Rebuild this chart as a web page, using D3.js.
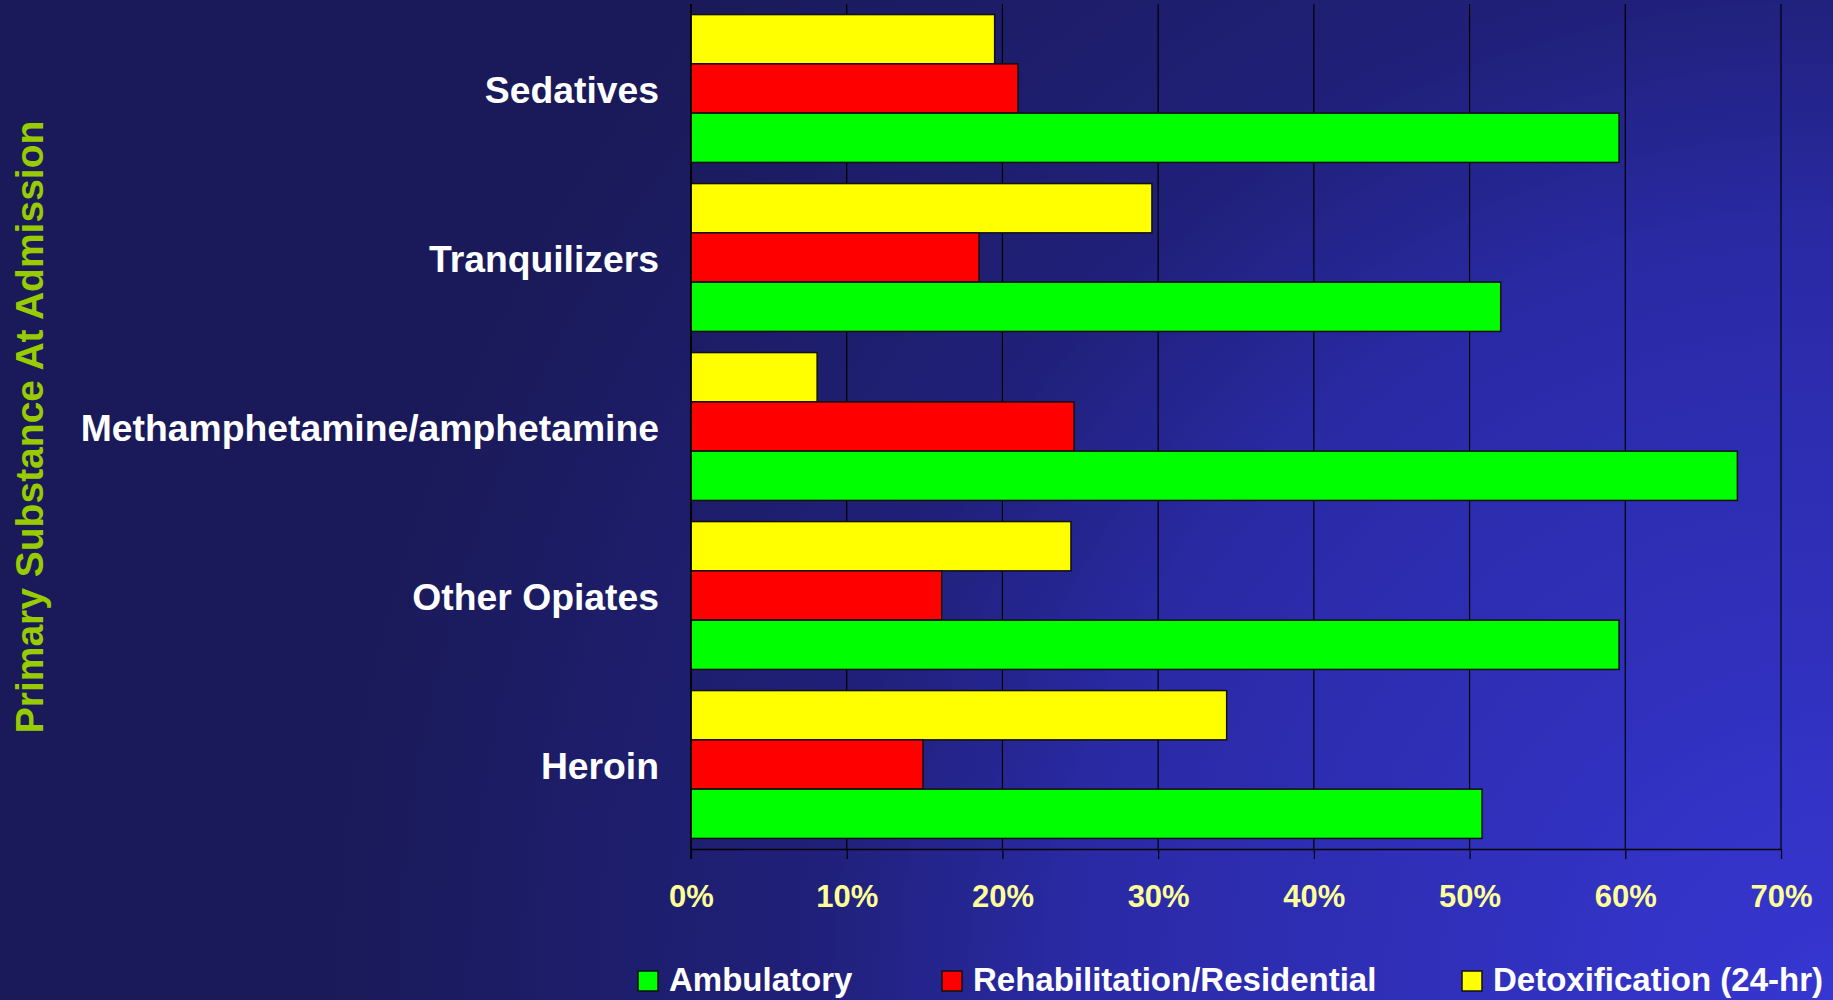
<!DOCTYPE html>
<html>
<head>
<meta charset="utf-8">
<script src="https://cdn.jsdelivr.net/npm/d3@7"></script>
<style>
  html, body { margin: 0; padding: 0; background: #1a1a5c; }
  svg { display: block; font-family: "Liberation Sans", Arial, sans-serif; }
</style>
</head>
<body>
<svg id="chart" width="1833" height="1000"></svg>
<script>
// ---- data ----
const categories = ["Sedatives", "Tranquilizers", "Methamphetamine/amphetamine", "Other Opiates", "Heroin"];
const seriesNames = ["Ambulatory", "Rehabilitation/Residential", "Detoxification (24-hr)"];
const ambulatory = [0.596, 0.520, 0.672, 0.596, 0.508];
const rehabilitation = [0.210, 0.185, 0.246, 0.161, 0.149];
const detoxification = [0.195, 0.296, 0.081, 0.244, 0.344];
const tickValues = [0, 0.1, 0.2, 0.3, 0.4, 0.5, 0.6, 0.7];
const yTitle = "Primary Substance At Admission";

const seriesColors = { "Ambulatory": "#00ff00", "Rehabilitation/Residential": "#ff0000", "Detoxification (24-hr)": "#ffff00" };
const seriesValues = { "Ambulatory": ambulatory, "Rehabilitation/Residential": rehabilitation, "Detoxification (24-hr)": detoxification };
// order of bars inside a group, top to bottom
const stackOrder = ["Detoxification (24-hr)", "Rehabilitation/Residential", "Ambulatory"];

const W = 1833, H = 1000;
const plot = { left: 691, right: 1781, top: 4, bottom: 849 };

const svg = d3.select("#chart");

// background gradient
const defs = svg.append("defs");
const grad = defs.append("radialGradient")
  .attr("id", "bg").attr("gradientUnits", "userSpaceOnUse")
  .attr("cx", W).attr("cy", H).attr("r", 1500);
[[0, "#3636d2"], [0.5, "#2a2aa6"], [0.68, "#20207a"], [1, "#1a1a5a"]].forEach(([o, c]) =>
  grad.append("stop").attr("offset", o).attr("stop-color", c));
svg.append("rect").attr("width", W).attr("height", H).attr("fill", "url(#bg)");

// scales
const x = d3.scaleLinear().domain([0, 0.7]).range([plot.left, plot.right]);
const y0 = d3.scaleBand().domain(categories).range([plot.top, plot.bottom])
  .paddingInner(0.125).paddingOuter(0.0625);
const y1 = d3.scaleBand().domain(stackOrder).range([0, y0.bandwidth()]);

// gridlines
svg.append("g").selectAll("line").data(tickValues).join("line")
  .attr("x1", d => x(d)).attr("x2", d => x(d))
  .attr("y1", plot.top).attr("y2", plot.bottom)
  .attr("stroke", "#000").attr("stroke-width", 1.2);

// bars
const groups = svg.append("g").selectAll("g").data(categories).join("g")
  .attr("transform", d => `translate(0,${y0(d)})`);
groups.selectAll("rect")
  .data((c, i) => stackOrder.map(s => ({ s, v: seriesValues[s][i] })))
  .join("rect")
  .attr("x", x(0))
  .attr("y", d => y1(d.s))
  .attr("width", d => x(d.v) - x(0))
  .attr("height", y1.bandwidth())
  .attr("fill", d => seriesColors[d.s])
  .attr("stroke", "#111")
  .attr("stroke-width", 1.5);

// x axis
const xAxis = d3.axisBottom(x).tickValues(tickValues).tickFormat(d3.format(".0%"))
  .tickSizeInner(10).tickSizeOuter(0).tickPadding(26);
const gx = svg.append("g").attr("transform", `translate(0,${plot.bottom})`).call(xAxis);
gx.select(".domain").attr("stroke", "#000").attr("stroke-width", 1.5);
gx.selectAll(".tick line").attr("stroke", "#000").attr("stroke-width", 1.2);
gx.selectAll(".tick text")
  .attr("fill", "#ffff99").attr("font-size", 31).attr("font-weight", "bold")
  .attr("font-family", "'Liberation Sans', Arial, sans-serif");

// left axis line
svg.append("line")
  .attr("x1", x(0)).attr("x2", x(0)).attr("y1", plot.top).attr("y2", plot.bottom + 10)
  .attr("stroke", "#000").attr("stroke-width", 1.5);

// category labels
svg.append("g").selectAll("text").data(categories).join("text")
  .attr("x", 659)
  .attr("y", d => y0(d) + y0.bandwidth() / 2)
  .attr("dy", "0.38em")
  .attr("text-anchor", "end")
  .attr("fill", "#ffffff").attr("font-size", 37.3).attr("font-weight", "bold")
  .text(d => d);

// y title
svg.append("text")
  .attr("transform", "translate(43,427) rotate(-90)")
  .attr("text-anchor", "middle")
  .attr("fill", "#99cc00").attr("font-size", 39).attr("font-weight", "bold")
  .text(yTitle);

// legend
const legendX = [638, 942, 1462];
const legend = svg.append("g").selectAll("g").data(seriesNames).join("g")
  .attr("transform", (d, i) => `translate(${legendX[i]},971)`);
legend.append("rect").attr("width", 20).attr("height", 20)
  .attr("fill", d => seriesColors[d]).attr("stroke", "#111").attr("stroke-width", 1.5);
legend.append("text").attr("x", 31).attr("y", 20)
  .attr("fill", "#ffffff").attr("font-size", 33).attr("font-weight", "bold")
  .text(d => d);
</script>
</body>
</html>
